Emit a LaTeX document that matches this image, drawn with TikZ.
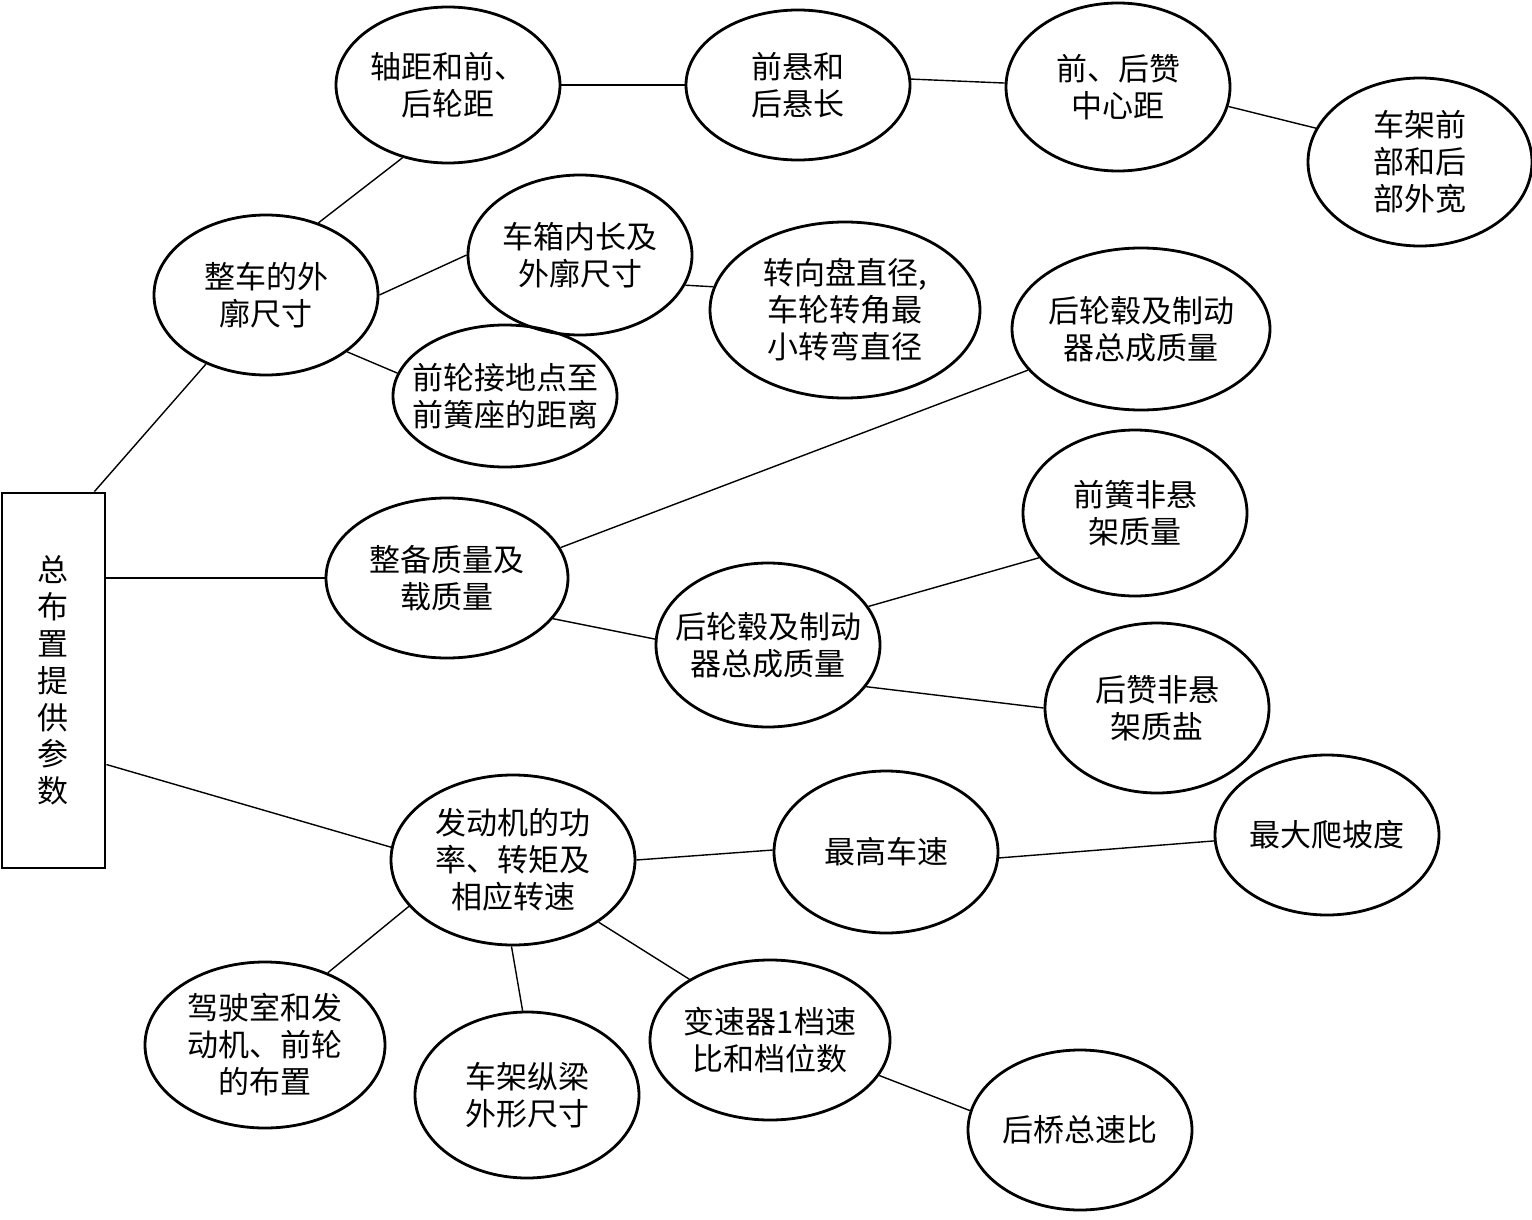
\documentclass[tikz,border=0pt]{standalone}
\usepackage{fontspec}
\newfontfamily\cjk{Noto Sans CJK SC}
\usetikzlibrary{shapes.geometric}

\begin{document}
\begin{tikzpicture}[x=0.5pt, y=-0.5pt,
        bubble/.style={ellipse, draw, line width=1.4pt, inner sep=0pt, align=center,
            minimum width=112pt, minimum height=80pt,
            font=\cjk\fontsize{15.5}{18.5}\selectfont},
        link/.style={line width=0.7pt}]
    \useasboundingbox (0,0) rectangle (1532,1220);

    % left box
    \node[draw, line width=1.4pt, minimum width=51.5pt, minimum height=187.5pt, inner sep=0pt,
        align=center, font=\cjk\fontsize{15.5}{18.4}\selectfont] (plan) at (53.5,680.5)
        {总\\布\\置\\提\\供\\参\\数};

    % dimensions
    \node[bubble] (body) at (266,295) {整车的外\\廓尺寸};
    \node[bubble, minimum height=78pt] (wheel) at (448,85) {轴距和前、\\后轮距};
    \node[bubble, minimum height=75pt] (overhang) at (798,85) {前悬和\\后悬长};
    \node[bubble, minimum height=84pt] (spring) at (1118,87) {前、后赞\\中心距};
    \node[bubble, minimum height=84pt] (frame) at (1420,162) {车架前\\部和后\\部外宽};
    \node[bubble] (box) at (580,255) {车箱内长及\\外廓尺寸};
    \node[bubble, minimum width=135pt, minimum height=88pt] (steer) at (845,310) {转向盘直径,\\车轮转角最\\小转弯直径};
    \node[bubble, inner xsep=-7pt, minimum height=71pt] (front) at (505,396) {前轮接地点至\\前簧座的距离};

    % masses
    \node[bubble, minimum width=121pt] (mass) at (447,578) {整备质量及\\载质量};
    \node[bubble, inner xsep=-1pt, minimum width=129pt, minimum height=81pt] (hubtop) at (1141,329) {后轮毂及制动\\器总成质量};
    \node[bubble, inner xsep=-7pt, minimum height=82pt] (hubmid) at (768,645) {后轮毂及制动\\器总成质量};
    \node[bubble, minimum height=83pt] (frontspring) at (1135,513) {前簧非悬\\架质量};
    \node[bubble, minimum height=85pt] (rearspring) at (1157,708) {后赞非悬\\架质盐};

    % engine
    \node[bubble, minimum width=122pt, minimum height=85pt] (engine) at (513,860) {发动机的功\\率、转矩及\\相应转速};
    \node[bubble, minimum height=81pt] (speed) at (886,852) {最高车速};
    \node[bubble] (climb) at (1327,835) {最大爬坡度};
    \node[bubble, minimum width=120pt, minimum height=83pt] (cab) at (265,1045) {驾驶室和发\\动机、前轮\\的布置};
    \node[bubble, minimum height=83pt] (rail) at (527,1095) {车架纵梁\\外形尺寸};
    \node[bubble, inner xsep=-3pt, minimum width=120pt] (gearbox) at (770,1040) {变速器1档速\\比和档位数};
    \node[bubble] (axle) at (1080,1130) {后桥总速比};

    \draw[link] ([xshift=-6pt]plan.north east) -- (body.229);
    \draw[link] (body.54) -- (wheel.238);
    \draw[link] (body.0) -- (box.180);
    \draw[link] (body.-35) -- (front.168);
    \draw[link] (wheel.0) -- (overhang.180);
    \draw[link] (overhang.3) -- (spring.178);
    \draw[link] (spring.-10) -- (frame.162);
    \draw[link] (box.-16) -- (steer.170);

    \draw[link] (plan.east |- mass.west) -- (mass.west);
    \draw[link] (mass.15) -- (hubtop.200);
    \draw[link] (mass.-21) -- (hubmid.177);
    \draw[link] (hubmid.21) -- (frontspring.205);
    \draw[link] (hubmid.-23) -- (rearspring.180);

    \draw[link] ([yshift=-42pt]plan.east) -- (engine.174);
    \draw[link] (engine.0) -- (speed.179);
    \draw[link] (speed.-3) -- (climb.183);
    \draw[link] (engine.204) -- (cab.49);
    \draw[link] (engine.269) -- (rail.93);
    \draw[link] (engine.-36) -- (gearbox.143);
    \draw[link] (gearbox.-18) -- (axle.170);
\end{tikzpicture}
\end{document}
